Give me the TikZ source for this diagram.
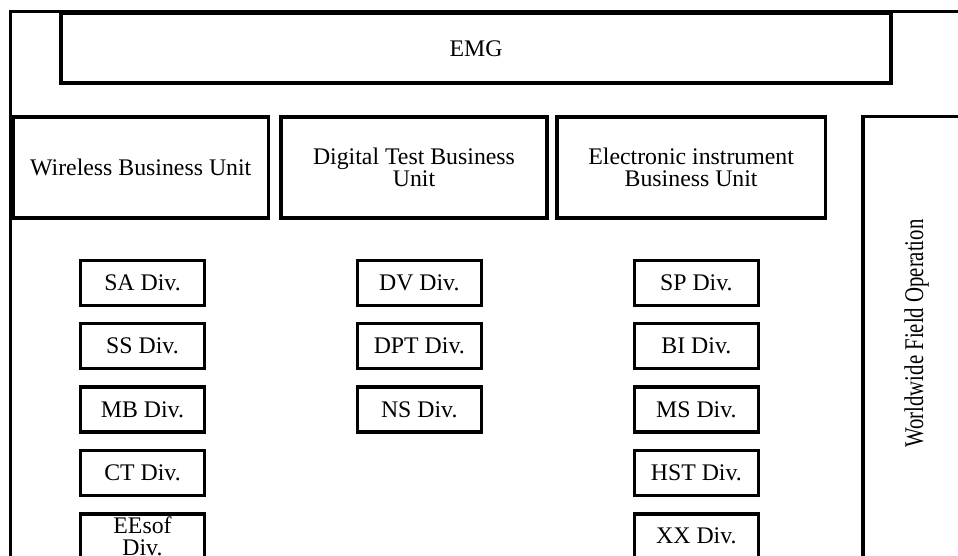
\documentclass[tikz,border=0pt]{standalone}
\usepackage{fontspec}
\setmainfont{Liberation Serif}
\begin{document}
\begin{tikzpicture}[x=1pt,y=-1pt,
  frameline/.style={line width=2.6pt},
  box/.style={draw, line width=3.6pt, inner sep=0pt, align=center,
    font=\fontsize{23.8}{22}\selectfont},
  unitbox/.style={box, minimum height=101pt},
  divbox/.style={box, minimum width=124pt, minimum height=45pt},
  lbl/.style={inner sep=0pt, align=center}]
\useasboundingbox (0,0) rectangle (958,556);
\clip (0,0) rectangle (958,556);

% outer frame
\draw[frameline] (10.7,600) -- (10.7,11.5) -- (1000,11.5);

% top group
\node[box, minimum width=830pt, minimum height=69.5pt] (emg) at (476,48.25) {EMG};

% business units
\node[unitbox, minimum width=255.5pt] (wbu) at (140.75,167.5) {Wireless Business Unit};
\node[unitbox, minimum width=266pt] (dtbu) at (414,167.5) {Digital Test Business\\Unit};
\node[unitbox, minimum width=268.3pt] (eibu) at (691.15,167.5) {Electronic instrument\\Business Unit};

% field operation column
\draw[line width=3.6pt] (863,600) -- (863,116.7) -- (1000,116.7);
\node[lbl, rotate=90, font=\fontsize{27}{27}\selectfont] (wfo) at (916.7,333.5)
  {\scalebox{0.77}[1]{Worldwide Field Operation}};

% divisions
\node[divbox] (sa) at (142.5,282.8) {SA Div.};
\node[divbox] (ss) at (142.5,346.15) {SS Div.};
\node[divbox] (mb) at (142.5,409.5) {MB Div.};
\node[divbox] (ct) at (142.5,472.85) {CT Div.};
\node[divbox] (ee) at (142.5,536.2) {EEsof\\Div.};

\node[divbox] (dv) at (419.3,282.8) {DV Div.};
\node[divbox] (dpt) at (419.3,346.15) {DPT Div.};
\node[divbox] (ns) at (419.3,409.5) {NS Div.};

\node[divbox] (sp) at (696.4,282.8) {SP Div.};
\node[divbox] (bi) at (696.4,346.15) {BI Div.};
\node[divbox] (ms) at (696.4,409.5) {MS Div.};
\node[divbox] (hst) at (696.4,472.85) {HST Div.};
\node[divbox] (xx) at (696.4,536.2) {XX Div.};
\end{tikzpicture}
\end{document}
